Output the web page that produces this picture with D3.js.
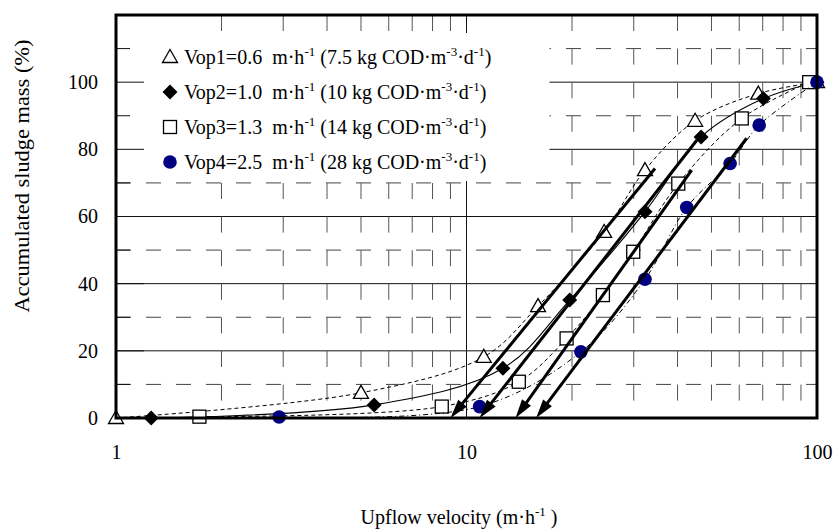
<!DOCTYPE html>
<html>
<head>
<meta charset="utf-8">
<script src="https://cdn.jsdelivr.net/npm/d3@7"></script>
<style>
  body { margin: 0; background: #fff; }
  svg { display: block; font-family: "Liberation Serif", "Times New Roman", serif; }
  text { white-space: pre; }
</style>
</head>
<body>
<div id="chart"></div>
<script>
// Accumulated sludge mass vs upflow velocity, four operating velocities

// x: upflow velocity (m/h), y: accumulated sludge mass (%)
const vop1X = [1, 5.0, 11.2, 16.0, 24.7, 32.3, 44.9, 68.0, 100];
const vop1Y = [0, 7.5, 18.2, 33.3, 55.4, 73.8, 88.5, 96.6, 100];
const vop2X = [1.26, 5.45, 12.7, 19.7, 32.3, 46.7, 70.3, 100];
const vop2Y = [0, 3.9, 14.8, 35.1, 61.4, 83.7, 95.1, 100];
const vop3X = [1.73, 8.5, 14.1, 19.3, 24.5, 29.9, 40.2, 61.0, 95];
const vop3Y = [0.4, 3.4, 10.8, 23.7, 36.6, 49.5, 69.8, 89.2, 100];
const vop4X = [2.92, 10.9, 21.2, 32.3, 42.5, 56.5, 68.4, 100];
const vop4Y = [0.3, 3.4, 19.7, 41.3, 62.7, 75.8, 87.2, 100];

// hand-drawn extrapolation arrows (start -> tip on the x axis)
const arrowFromX = [34.5, 45.4, 43.9, 63.0];
const arrowFromY = [74.3, 82.7, 73.8, 83.3];
const arrowToX = [9.0, 10.9, 13.8, 15.8];
const arrowToY = [0, 0, 0, 0];

const xTicks = [1, 10, 100];
const xMinor = [2, 3, 4, 5, 6, 7, 8, 9, 20, 30, 40, 50, 60, 70, 80, 90];
const yTicks = [0, 20, 40, 60, 80, 100];
const yMinor = [10, 30, 50, 70, 90, 110];

const legendLabels = [
  ['Vop1=0.6  m·h', '-1', ' (7.5 kg COD·m', '-3', '·d', '-1', ')'],
  ['Vop2=1.0  m·h', '-1', ' (10 kg COD·m', '-3', '·d', '-1', ')'],
  ['Vop3=1.3  m·h', '-1', ' (14 kg COD·m', '-3', '·d', '-1', ')'],
  ['Vop4=2.5  m·h', '-1', ' (28 kg COD·m', '-3', '·d', '-1', ')']
];

const W = 836, H = 529;
const FONT = 20;

const svg = d3.select('#chart').append('svg')
  .attr('width', W)
  .attr('height', H);

const x = d3.scaleLog().domain([1, 100]).range([116, 817]);
const y = d3.scaleLinear().domain([0, 120]).range([418, 15]);

const [x0, x1] = x.range();
const [y0, y1] = y.range();

// gridlines
const grid = svg.append('g');
grid.selectAll('.hmaj').data(yTicks.filter(d => d > 0)).enter().append('line')
  .attr('x1', x0).attr('x2', x1)
  .attr('y1', d => y(d)).attr('y2', d => y(d))
  .attr('stroke', '#111').attr('stroke-width', 1);
grid.selectAll('.hmin').data(yMinor).enter().append('line')
  .attr('x1', x0).attr('x2', x1)
  .attr('y1', d => y(d)).attr('y2', d => y(d))
  .attr('stroke', '#444').attr('stroke-width', 1)
  .attr('stroke-dasharray', '15,15');
grid.append('line')
  .attr('x1', x(10)).attr('x2', x(10))
  .attr('y1', y1).attr('y2', y0)
  .attr('stroke', '#111').attr('stroke-width', 1);
grid.selectAll('.vmin').data(xMinor).enter().append('line')
  .attr('x1', d => x(d)).attr('x2', d => x(d))
  .attr('y1', y1).attr('y2', y0)
  .attr('stroke', '#555').attr('stroke-width', 1)
  .attr('stroke-dasharray', '16,17.6');

// series
const series = [
  { xs: vop1X, ys: vop1Y, marker: 'triangle', dash: '4,3', width: 1 },
  { xs: vop2X, ys: vop2Y, marker: 'diamond', dash: null, width: 1.1 },
  { xs: vop3X, ys: vop3Y, marker: 'square', dash: '4,3', width: 1 },
  { xs: vop4X, ys: vop4Y, marker: 'circle', dash: '5,3,1,3', width: 1 }
];

const line = d3.line()
  .x(d => x(d.x))
  .y(d => y(d.y))
  .curve(d3.curveCatmullRom.alpha(0.5));

function drawMarker(g, type, cx, cy) {
  if (type === 'triangle') {
    g.append('path')
      .attr('d', `M${cx},${cy - 7.5}L${cx + 7.5},${cy + 5.5}L${cx - 7.5},${cy + 5.5}Z`)
      .attr('fill', '#fff').attr('stroke', '#000').attr('stroke-width', 1.3);
  } else if (type === 'diamond') {
    g.append('path')
      .attr('d', `M${cx},${cy - 7.5}L${cx + 7.5},${cy}L${cx},${cy + 7.5}L${cx - 7.5},${cy}Z`)
      .attr('fill', '#000');
  } else if (type === 'square') {
    g.append('rect')
      .attr('x', cx - 6.5).attr('y', cy - 6.5)
      .attr('width', 13).attr('height', 13)
      .attr('fill', '#fff').attr('stroke', '#000').attr('stroke-width', 1.3);
  } else {
    g.append('circle')
      .attr('cx', cx).attr('cy', cy).attr('r', 6.8)
      .attr('fill', '#000080');
  }
}

series.forEach(s => {
  const pts = s.xs.map((v, i) => ({ x: v, y: s.ys[i] }));
  const g = svg.append('g');
  g.append('path')
    .datum(pts)
    .attr('fill', 'none')
    .attr('stroke', '#000')
    .attr('stroke-width', s.width)
    .attr('stroke-dasharray', s.dash)
    .attr('d', line);
  pts.forEach(p => drawMarker(g, s.marker, x(p.x), y(p.y)));
});

// thick arrows
const arrows = svg.append('g');
arrowFromX.forEach((fx, i) => {
  const sx = x(fx), sy = y(arrowFromY[i]);
  const tx = x(arrowToX[i]), ty = y(arrowToY[i]);
  const len = Math.hypot(tx - sx, ty - sy);
  const ux = (tx - sx) / len, uy = (ty - sy) / len;
  const headL = 19, headW = 5.5;
  const bx = tx - ux * headL, by = ty - uy * headL;
  arrows.append('line')
    .attr('x1', sx).attr('y1', sy)
    .attr('x2', bx + ux * 2).attr('y2', by + uy * 2)
    .attr('stroke', '#000').attr('stroke-width', 3);
  arrows.append('path')
    .attr('d', `M${tx},${ty}L${bx - uy * headW},${by + ux * headW}L${bx + uy * headW},${by - ux * headW}Z`)
    .attr('fill', '#000');
});

// legend
const legend = svg.append('g');
legend.append('rect')
  .attr('x', x0 + 1.5).attr('y', 33)
  .attr('width', 548 - x0).attr('height', 148)
  .attr('fill', '#fff');
const markerTypes = series.map(s => s.marker);
legendLabels.forEach((parts, i) => {
  const base = 64 + i * 35;
  drawMarker(legend, markerTypes[i], 170, base - 7);
  const t = legend.append('text')
    .attr('x', 184).attr('y', base)
    .attr('font-size', FONT);
  parts.forEach((p, k) => {
    const sup = k === 1 || k === 3 || k === 5;
    const prevSup = k === 2 || k === 4 || k === 6;
    t.append('tspan')
      .attr('font-size', sup ? 13 : FONT)
      .attr('dy', sup ? -8 : (prevSup ? 8 : 0))
      .text(p);
  });
});

// left-axis inner ticks
svg.append('g').selectAll('line')
  .data(yTicks.concat(yMinor))
  .enter().append('line')
  .attr('x1', x0).attr('x2', d => x0 + (d % 20 === 0 ? 28 : 14))
  .attr('y1', d => y(d)).attr('y2', d => y(d))
  .attr('stroke', '#111').attr('stroke-width', 1);

// frame
svg.append('rect')
  .attr('x', x0).attr('y', y1)
  .attr('width', x1 - x0).attr('height', y0 - y1)
  .attr('fill', 'none').attr('stroke', '#000').attr('stroke-width', 3);

// axes labels
const xAxis = d3.axisBottom(x).tickValues(xTicks).tickFormat(d3.format('d')).tickSize(0).tickPadding(27);
const gx = svg.append('g').attr('transform', `translate(0,${y0})`).call(xAxis);
const yAxis = d3.axisLeft(y).tickValues(yTicks).tickFormat(d3.format('d')).tickSize(0).tickPadding(18);
const gy = svg.append('g').attr('transform', `translate(${x0},0)`).call(yAxis);
[gx, gy].forEach(g => {
  g.select('.domain').remove();
  g.selectAll('text')
    .attr('font-family', '"Liberation Serif", "Times New Roman", serif')
    .attr('font-size', FONT)
    .attr('fill', '#000');
});

// axis titles
const xt = svg.append('text')
  .attr('x', 459).attr('y', 524)
  .attr('text-anchor', 'middle')
  .attr('font-size', FONT);
xt.append('tspan').text('Upflow velocity (m·h');
xt.append('tspan').attr('font-size', 13).attr('dy', -8).text('-1');
xt.append('tspan').attr('dy', 8).text(' )');

svg.append('text')
  .attr('transform', 'translate(29,176) rotate(-90) scale(1.12,1)')
  .attr('text-anchor', 'middle')
  .attr('font-size', FONT)
  .text('Accumulated sludge mass (%)');
</script>
</body>
</html>
